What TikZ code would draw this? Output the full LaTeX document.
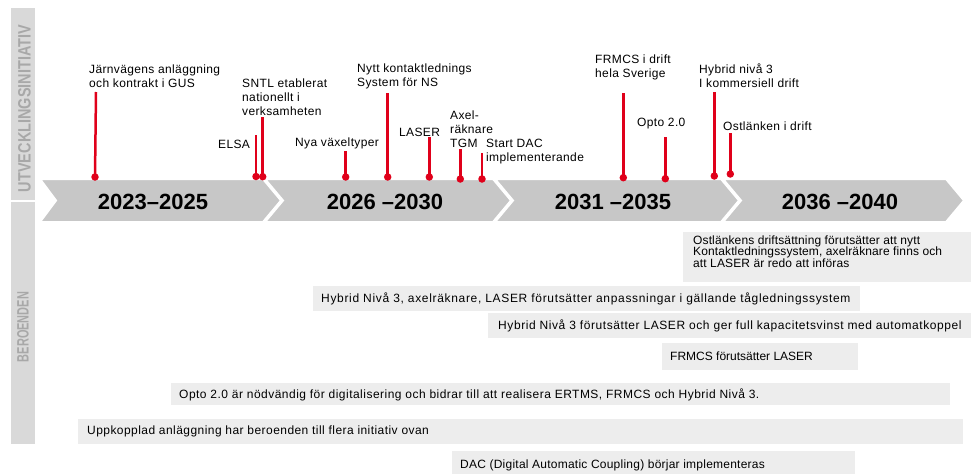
\documentclass[tikz,border=0pt]{standalone}
\usepackage{fontspec}
\usepackage{graphicx}
\setmainfont{Liberation Sans}
\definecolor{chev}{RGB}{199,199,199}
\definecolor{depbox}{RGB}{237,237,237}
\definecolor{side}{RGB}{217,217,217}
\definecolor{sidetext}{RGB}{168,168,168}
\definecolor{mred}{RGB}{224,0,26}
\begin{document}
\begin{tikzpicture}[x=1pt,y=-1pt,
 lbl/.style={anchor=west,inner sep=0pt,align=left,font=\fontsize{12}{14}\selectfont\addfontfeature{LetterSpace=3}},
 dep/.style={anchor=west,inner sep=0pt,align=left,font=\fontsize{12}{11.5}\selectfont\addfontfeature{LetterSpace=#1}},
 dep/.default=0,
 depbg/.style={fill=depbox,draw=none},
 chevron/.style={fill=chev,draw=white,line width=2pt,line join=miter},
 year/.style={font=\fontsize{22}{26}\selectfont\bfseries,inner sep=0pt},
 stem/.style={draw=mred,line width=2.5pt},
 dot/.style={circle,fill=mred,inner sep=0pt,minimum size=7.5pt},
]
\useasboundingbox (0,0) rectangle (971,474);

% sidebar
\fill[side] (11,8) rectangle (35,200);
\fill[side] (11,201.5) rectangle (35,444);
\node[rotate=90,text=sidetext,inner sep=0pt] (sideA) at (24.5,108.5) {\resizebox{167pt}{12.5pt}{\bfseries UTVECKLINGSINITIATIV}};
\node[rotate=90,text=sidetext,inner sep=0pt] (sideB) at (23,327) {\resizebox{70pt}{11.5pt}{\bfseries BEROENDEN}};

% chevrons
\path[chevron] (40,179) -- (263,179) -- (281,200.5) -- (263,222) -- (40,222) -- (56,200.5) -- cycle;
\path[chevron] (265,179) -- (493,179) -- (511,200.5) -- (493,222) -- (265,222) -- (283,200.5) -- cycle;
\path[chevron] (495,179) -- (721,179) -- (739,200.5) -- (721,222) -- (495,222) -- (513,200.5) -- cycle;
\path[chevron] (723,179) -- (946,179) -- (964,200.5) -- (946,222) -- (723,222) -- (741,200.5) -- cycle;

\node[year] (y1) at (153,201.5) {2023–2025};
\node[year] (y2) at (385,201.5) {2026 –2030};
\node[year] (y3) at (613,201.5) {2031 –2035};
\node[year] (y4) at (840,201.5) {2036 –2040};

% markers
\coordinate (t1) at (96,92);    \node[dot] (d1) at (95,177) {};
\coordinate (t2) at (256,135);  \node[dot] (d2) at (256,176.5) {};
\coordinate (t3) at (262.7,117);\node[dot] (d3) at (262.7,176.7) {};
\coordinate (t4) at (345.7,151);\node[dot] (d4) at (345.7,177) {};
\coordinate (t5) at (387.7,93); \node[dot] (d5) at (387.7,177) {};
\coordinate (t6) at (429.3,137);\node[dot] (d6) at (429.3,177) {};
\coordinate (t7) at (460.3,149);\node[dot] (d7) at (460.3,179) {};
\coordinate (t8) at (482,153);  \node[dot] (d8) at (482,179) {};
\coordinate (t9) at (623.3,93); \node[dot] (d9) at (623.3,177.7) {};
\coordinate (t10) at (665.3,137);\node[dot] (d10) at (665.3,178.7) {};
\coordinate (t11) at (714.3,92);\node[dot] (d11) at (714.3,176) {};
\coordinate (t12) at (730.3,133);\node[dot] (d12) at (730.3,174) {};
\foreach \i in {1,...,12} {\draw[stem] (t\i) -- (d\i.center);}

% labels
\node[lbl] (l1) at (89,76) {Järnvägens anläggning\\och kontrakt i GUS};
\node[lbl] (l2) at (218,144) {ELSA};
\node[lbl] (l3) at (242,97) {SNTL etablerat\\nationellt i\\verksamheten};
\node[lbl] (l4) at (295,143) {Nya växeltyper};
\node[lbl] (l5) at (357,76) {Nytt kontaktlednings\\System för NS};
\node[lbl] (l6) at (399,132) {LASER};
\node[lbl] (l7) at (450,129) {Axel-\\räknare\\TGM};
\node[lbl] (l8) at (486,152) {Start DAC\\implementerande};
\node[lbl] (l9) at (595,67.7) {FRMCS i drift\\hela Sverige};
\node[lbl] (l10) at (637,124) {Opto 2.0};
\node[lbl] (l11) at (699,76) {Hybrid nivå 3\\I kommersiell drift};
\node[lbl] (l12) at (723,126) {Ostlänken i drift};

% dependency boxes
\fill[depbg] (683,232) rectangle (971,282);
\node[dep=1] (b1) at (693,251.5) {Ostlänkens driftsättning förutsätter att nytt\\Kontaktledningssystem, axelräknare finns och\\att LASER är redo att införas};
\fill[depbg] (313,286) rectangle (860,311);
\node[dep=5.6] (b2) at (321,298.5) {Hybrid Nivå 3, axelräknare, LASER förutsätter anpassningar i gällande tågledningssystem};
\fill[depbg] (488,313) rectangle (971,338);
\node[dep=4.8] (b3) at (498,325.5) {Hybrid Nivå 3 förutsätter LASER och ger full kapacitetsvinst med automatkoppel};
\fill[depbg] (662,343) rectangle (858,370);
\node[dep] (b4) at (670,356.5) {FRMCS förutsätter LASER};
\fill[depbg] (171,383) rectangle (950,405);
\node[dep=4] (b5) at (179,394.5) {Opto 2.0 är nödvändig för digitalisering och bidrar till att realisera ERTMS, FRMCS och Hybrid Nivå 3.};
\fill[depbg] (78,419) rectangle (963,444);
\node[dep=3.7] (b6) at (87,431.5) {Uppkopplad anläggning har beroenden till flera initiativ ovan};
\fill[depbg] (452,451) rectangle (855,474);
\node[dep=2] (b7) at (460,465.5) {DAC (Digital Automatic Coupling) börjar implementeras};
\end{tikzpicture}
\end{document}
